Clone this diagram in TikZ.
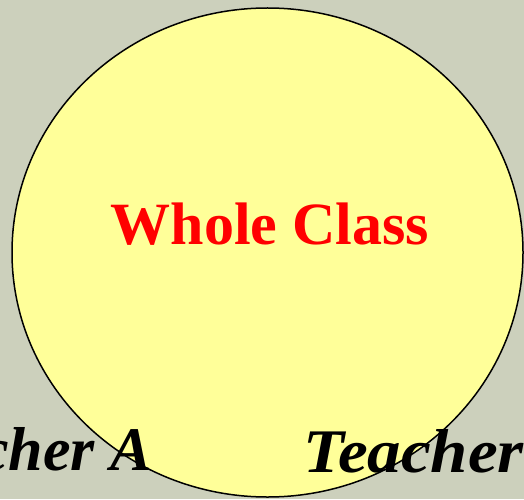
\documentclass[tikz,border=0pt]{standalone}
\usepackage{fontspec}
\usetikzlibrary{shapes.geometric}
\setmainfont{Liberation Serif}
\definecolor{bgc}{HTML}{CCD0BC}
\definecolor{circ}{HTML}{FFFF99}
\begin{document}
\begin{tikzpicture}[x=1pt,y=1pt,
  title/.style={font=\fontsize{60}{60}\selectfont\bfseries, text=red, inner sep=0pt},
  lbl/.style={font=\fontsize{62}{62}\selectfont\bfseries\itshape, text=black, inner sep=0pt}]
\useasboundingbox (0,0) rectangle (524,499);
\clip (0,0) rectangle (524,499);
\fill[bgc] (0,0) rectangle (524,499);
\node[draw=black, line width=1.5pt, fill=circ, ellipse, minimum width=511pt, minimum height=489pt, inner sep=0pt] (whole) at (267.5,246.5) {};
\node[title, anchor=base] (wc) at (270,255) {Whole Class};
\node[lbl, anchor=base east] (ta) at (152,29) {Teacher A};
\node[lbl, anchor=base west] (tb) at (303,27) {\scalebox{1.08}[1]{Teacher}};
\end{tikzpicture}
\end{document}
